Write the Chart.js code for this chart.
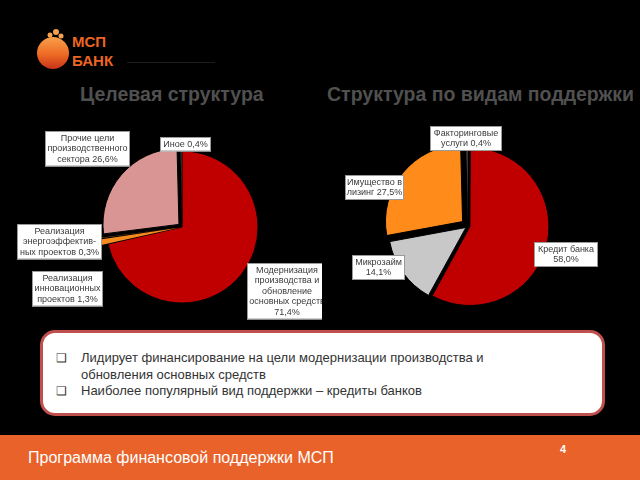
<!DOCTYPE html>
<html>
<head>
<meta charset="utf-8">
<script src="https://cdn.jsdelivr.net/npm/chart.js@4.4.0/dist/chart.umd.min.js"></script>
<style>
  html, body { margin: 0; padding: 0; background: #000; }
  #page { position: relative; width: 640px; height: 480px; overflow: hidden; background: #000; font-family: "Liberation Sans", Arial, sans-serif; }
  .title { position: absolute; top: 83px; font-size: 19.5px; font-weight: bold; color: #505050; white-space: nowrap; }
  #cLeft { position: absolute; left: 0; top: 0; }
  #cRight { position: absolute; left: 320px; top: 0; }
  #box { position: absolute; left: 40px; top: 330px; width: 559px; height: 80px; background: #fff; border: 3px solid #c0504d; border-radius: 15px; }
  #box .item { position: absolute; left: 38px; font-size: 13px; color: #333; line-height: 16.5px; }
  #box .bul { position: absolute; left: -25px; top: 0; font-size: 12px; color: #333; }
  #footer { position: absolute; left: 0; top: 435px; width: 640px; height: 45px; background: #e9622a; color: #fff; }
  #footer .t { position: absolute; left: 28px; top: 14px; font-size: 16px; }
  #footer .n { position: absolute; left: 560px; top: 8px; font-size: 11px; font-weight: bold; }
  #logo { position: absolute; left: 36px; top: 28px; }
  #logoLine { position: absolute; left: 127px; top: 62px; width: 88px; height: 1px; background: #1c1c1c; }
</style>
</head>
<body>
<div id="page">
  <svg id="logo" width="92" height="42" viewBox="0 0 92 42">
    <defs>
      <linearGradient id="lg" x1="0" y1="0" x2="0" y2="1">
        <stop offset="0" stop-color="#f7a04a"/>
        <stop offset="0.55" stop-color="#ee6a24"/>
        <stop offset="1" stop-color="#c8321a"/>
      </linearGradient>
    </defs>
    <circle cx="17" cy="25" r="16" fill="url(#lg)"/>
    <circle cx="20" cy="4" r="3" fill="#f5a04c"/>
    <circle cx="14" cy="7" r="2.5" fill="#f5a04c"/>
    <circle cx="25" cy="8" r="2.5" fill="#f5a04c"/>
    <text x="36" y="19" font-family="Liberation Sans, Arial" font-weight="bold" font-size="15" fill="#ec6524">МСП</text>
    <text x="36" y="38" font-family="Liberation Sans, Arial" font-weight="bold" font-size="15" fill="#ec6524">БАНК</text>
  </svg>
  <div id="logoLine"></div>
  <div class="title" style="left:80px">Целевая структура</div>
  <div class="title" style="left:327px">Структура по видам поддержки</div>
  <canvas id="cLeft" width="322" height="340"></canvas>
  <canvas id="cRight" width="320" height="340"></canvas>
  <div id="box">
    <div class="item" style="top:17px"><span class="bul">❑</span>Лидирует финансирование на цели модернизации производства и<br>обновления основных средств</div>
    <div class="item" style="top:50px"><span class="bul">❑</span>Наиболее популярный вид поддержки – кредиты банков</div>
  </div>
  <div id="footer">
    <div class="t">Программа финансовой поддержки МСП</div>
    <div class="n">4</div>
  </div>
</div>
<script>
// Целевая структура
const purposeLabels = [
  ['Модернизация', 'производства и', 'обновление', 'основных средств', ''],
  ['Реализация', 'инновационных', 'проектов'],
  ['Реализация', 'энергоэффектив-', 'ных проектов'],
  ['Прочие цели', 'производственного', 'сектора'],
  ['Иное']
]
const purposeValues = [71.4, 1.3, 0.3, 26.6, 0.4]

// Структура по видам поддержки
const supportLabels = [
  ['Кредит банка', ''],
  ['Микрозайм', ''],
  ['Имущество в', 'лизинг'],
  ['Факторинговые', 'услуги']
]
const supportValues = [58.0, 14.1, 27.5, 0.4]

// расположение подписей (координаты страницы)
const purposeBoxes = [
  { x: 247, y: 263, w: 80 },
  { x: 32, y: 271, w: 71 },
  { x: 17, y: 224, w: 85 },
  { x: 45, y: 131, w: 85 },
  { x: 160, y: 137, w: 51 }
]
const supportBoxes = [
  { x: 534, y: 242, w: 64 },
  { x: 352, y: 255, w: 53 },
  { x: 345, y: 175, w: 59 },
  { x: 430, y: 126, w: 72 }
]

const fmt = v => v.toFixed(1).replace('.', ',') + '%'

function boxLabels(boxes, offsetX) {
  return {
    id: 'boxLabels',
    afterDraw(chart) {
      const ctx = chart.ctx
      const labels = chart.data.labels
      const values = chart.data.datasets[0].data
      const lh = 10.5
      ctx.save()
      ctx.font = '9px "Liberation Sans", Arial, sans-serif'
      ctx.textAlign = 'center'
      ctx.textBaseline = 'middle'
      labels.forEach((lines, i) => {
        const b = boxes[i]
        const txt = lines.slice()
        const last = txt.length - 1
        txt[last] = (txt[last] ? txt[last] + ' ' : '') + fmt(values[i])
        const h = txt.length * lh + 4
        const x = b.x - offsetX
        ctx.fillStyle = '#fff'
        ctx.fillRect(x, b.y, b.w, h)
        ctx.strokeStyle = '#9a9a9a'
        ctx.lineWidth = 1
        ctx.strokeRect(x + 0.5, b.y + 0.5, b.w - 1, h - 1)
        ctx.fillStyle = '#3a3a3a'
        txt.forEach((t, k) => ctx.fillText(t, x + b.w / 2, b.y + 2 + lh * (k + 0.5)))
      })
      ctx.restore()
    }
  }
}

function makePie(id, labels, values, colors, offsets, borders, radius, padding, boxes, offsetX) {
  return new Chart(document.getElementById(id), {
    type: 'pie',
    data: {
      labels,
      datasets: [{
        data: values,
        backgroundColor: colors,
        borderColor: '#000',
        borderWidth: borders,
        offset: offsets,
        radius
      }]
    },
    options: {
      responsive: false,
      animation: false,
      layout: { padding },
      plugins: { legend: { display: false }, tooltip: { enabled: false } }
    },
    plugins: [boxLabels(boxes, offsetX)]
  })
}

makePie('cLeft', purposeLabels, purposeValues,
  ['#c00000', '#f58a1f', '#f59a40', '#d99594', '#c8c8c8'],
  [0, 14, 14, 16, 16], [1, 0, 0, 1, 0.5], 76,
  { left: 42, right: 0, top: 114, bottom: 0 },
  purposeBoxes, 0)

makePie('cRight', supportLabels, supportValues,
  ['#c00000', '#c8c8c8', '#ff8c1a', '#e6b9b8'],
  [8, 10, 28, 12], [1, 1, 1, 0.5], 77,
  { left: 0, right: 24, top: 112, bottom: 0 },
  supportBoxes, 320)
</script>
</body>
</html>
